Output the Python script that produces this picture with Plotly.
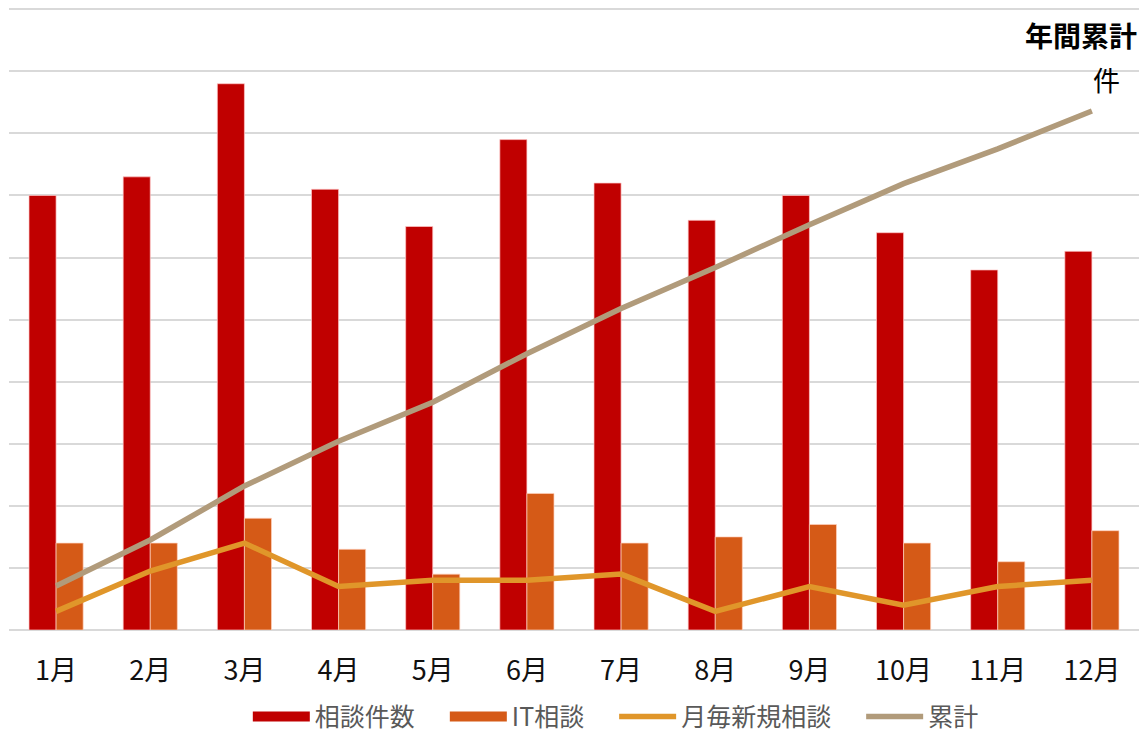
import plotly.graph_objects as go

months = ["1月", "2月", "3月", "4月", "5月", "6月", "7月", "8月", "9月", "10月", "11月", "12月"]
soudan = [70, 73, 88, 71, 65, 79, 72, 66, 70, 64, 58, 61]
it_soudan = [14, 14, 18, 13, 9, 22, 14, 15, 17, 14, 11, 16]
shinki = [3, 9.5, 14, 7, 8, 8, 9, 3, 7, 4, 7, 8]
ruikei = [71, 145, 232, 304, 367, 445, 518, 584, 653, 719, 775, 836]

FONT = "Noto Sans CJK JP"
RED = "#C00000"
ORANGE = "#D55A17"
GOLD = "#E0962A"
TAN = "#B19B7B"

fig = go.Figure()
fig.add_trace(go.Bar(x=months, y=soudan, name="相談件数", showlegend=False,
                     marker=dict(color=RED, line=dict(color="rgba(255,200,200,0.7)", width=1))))
fig.add_trace(go.Bar(x=months, y=it_soudan, name="IT相談", showlegend=False,
                     marker=dict(color=ORANGE, line=dict(color="rgba(255,210,190,0.7)", width=1))))
fig.add_trace(go.Scatter(x=months, y=shinki, name="月毎新規相談", mode="lines", showlegend=False,
                         line=dict(color=GOLD, width=5.5)))
fig.add_trace(go.Scatter(x=months, y=ruikei, name="累計", mode="lines", yaxis="y2", showlegend=False,
                         line=dict(color=TAN, width=5.5)))

# legend keys (wide swatches like the original)
GAP = "\u3000"
for name, col, w in [("相談件数" + GAP, RED, 12), ("IT相談" + GAP, ORANGE, 12),
                     ("月毎新規相談" + GAP, GOLD, 5.5), ("累計", TAN, 5.5)]:
    fig.add_trace(go.Scatter(x=[None], y=[None], name=name, mode="lines",
                             line=dict(color=col, width=w)))

fig.update_layout(
    width=1141, height=733,
    margin=dict(l=9, r=2, t=8, b=103, autoexpand=False),
    paper_bgcolor="white", plot_bgcolor="white",
    barmode="group", bargap=0.425, bargroupgap=0,
    font=dict(family=FONT, color="#000000"),
    xaxis=dict(showgrid=False, showline=False, ticks="", zeroline=False,
               tickfont=dict(size=27, color="#111111"), ticklabelstandoff=22),
    yaxis=dict(range=[0, 100.2], tickvals=[0, 10, 20, 30, 40, 50, 60, 70, 80, 90, 100],
               showticklabels=False, showgrid=True,
               gridcolor="#D9D9D9", gridwidth=2, zeroline=True, zerolinecolor="#D9D9D9",
               zerolinewidth=2, ticks=""),
    yaxis2=dict(range=[0, 1002], overlaying="y", side="right", showgrid=False,
                showticklabels=False, zeroline=False, ticks=""),
    legend=dict(orientation="h", x=0.537, xanchor="center", yref="container", y=0.022, yanchor="middle",
                font=dict(size=25, color="#595959"), itemwidth=57, traceorder="normal",
                bgcolor="rgba(0,0,0,0)"),
    annotations=[
        dict(text="<b>年間累計</b>", xref="paper", yref="paper", x=1.0, y=0.957,
             xanchor="right", yanchor="middle", showarrow=False,
             font=dict(size=28, color="#000000", family=FONT)),
        dict(text="件", xref="paper", yref="paper", x=0.971, y=0.885,
             xanchor="center", yanchor="middle", showarrow=False,
             font=dict(size=27, color="#000000", family=FONT)),
    ],
)

fig.write_html("out.html")
